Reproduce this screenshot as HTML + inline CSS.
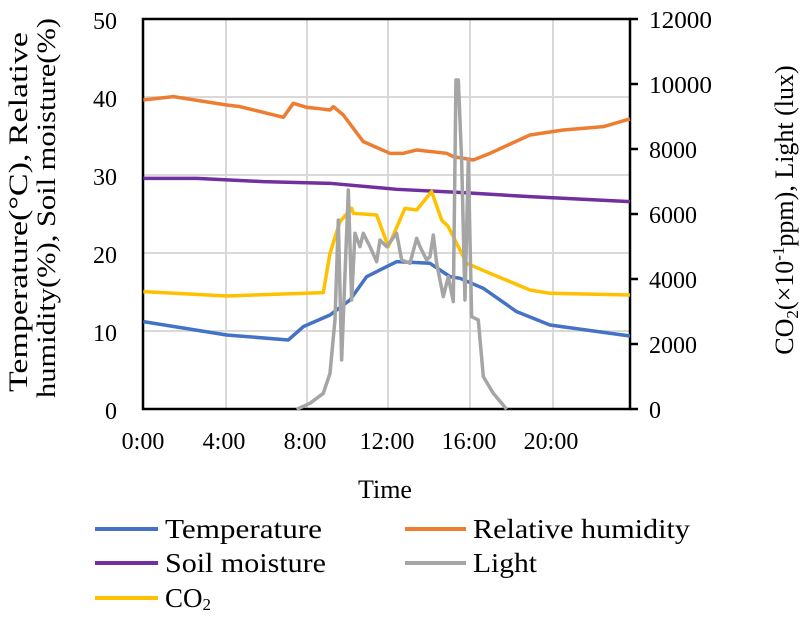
<!DOCTYPE html>
<html><head><style>
body{margin:0;background:#fff;}
svg{font-family:"Liberation Serif",serif;}
</style></head><body>
<svg width="800" height="613" viewBox="0 0 800 613">
<rect width="800" height="613" fill="#fff"/>
<g stroke="#d9d9d9" stroke-width="2">
<line x1="226" y1="19" x2="226" y2="409"/><line x1="307" y1="19" x2="307" y2="409"/>
<line x1="388" y1="19" x2="388" y2="409"/><line x1="470" y1="19" x2="470" y2="409"/>
<line x1="553" y1="19" x2="553" y2="409"/>
<line x1="143" y1="331" x2="630" y2="331"/><line x1="143" y1="253" x2="630" y2="253"/>
<line x1="143" y1="175" x2="630" y2="175"/><line x1="143" y1="97" x2="630" y2="97"/>
</g>
<g stroke="#000" stroke-width="2.5" fill="none">
<rect x="143" y="19" width="487" height="390"/>
<line x1="630" y1="19" x2="638" y2="19"/><line x1="630" y1="84" x2="638" y2="84"/>
<line x1="630" y1="149" x2="638" y2="149"/><line x1="630" y1="214" x2="638" y2="214"/>
<line x1="630" y1="279" x2="638" y2="279"/><line x1="630" y1="344" x2="638" y2="344"/>
<line x1="630" y1="409" x2="638" y2="409"/>
</g>
<g transform="translate(130,0) scale(0.3333)" fill="none" stroke-width="3.5" stroke-linejoin="round">
<polyline vector-effect="non-scaling-stroke" stroke="#ed7d31" points="40,300 130,290 290,315 330,320 460,352 490,310 530,322 560,325 600,330 610,320 640,345 700,425 780,460 820,460 860,450 950,460 970,470 1030,480 1080,460 1200,405 1300,390 1420,380 1500,357"/>
<polyline vector-effect="non-scaling-stroke" stroke="#7030a0" points="40,535 200,535 400,545 600,550 800,568 1000,578 1200,590 1500,605"/>
<polyline vector-effect="non-scaling-stroke" stroke="#4472c4" points="40,965 290,1005 475,1020 520,980 600,945 660,900 710,830 800,785 900,790 960,830 990,835 1060,865 1160,935 1260,975 1500,1008"/>
<polyline vector-effect="non-scaling-stroke" stroke="#ffc000" points="40,875 290,888 580,878 600,760 630,665 665,625 670,640 740,645 775,740 825,625 860,630 905,575 935,660 955,680 1010,790 1080,820 1200,870 1260,880 1500,885"/>
<polyline vector-effect="non-scaling-stroke" stroke="#a5a5a5" points="500,1228 540,1210 580,1180 600,1120 615,960 625,660 635,1080 655,570 665,900 675,700 690,740 700,700 720,740 740,785 750,720 770,740 800,700 815,780 840,790 860,715 870,740 890,780 900,770 910,705 920,790 940,890 955,830 970,905 978,240 985,240 995,480 1005,900 1015,480 1025,950 1045,960 1060,1130 1090,1180 1130,1228"/>
</g>
<g font-size="24" fill="#000" text-anchor="end">
<text x="117" y="29">50</text><text x="117" y="107">40</text><text x="117" y="185">30</text>
<text x="117" y="263">20</text><text x="117" y="341">10</text><text x="117" y="419">0</text>
</g>
<g font-size="24" fill="#000" text-anchor="start">
<text x="649" y="28" textLength="63" lengthAdjust="spacingAndGlyphs">12000</text>
<text x="649" y="93" textLength="63" lengthAdjust="spacingAndGlyphs">10000</text>
<text x="649" y="158">8000</text><text x="649" y="223">6000</text>
<text x="649" y="288">4000</text><text x="649" y="353">2000</text><text x="649" y="418">0</text>
</g>
<g font-size="24" fill="#000" text-anchor="middle">
<text x="143" y="449">0:00</text><text x="224" y="449">4:00</text><text x="305" y="449">8:00</text>
<text x="387" y="449">12:00</text><text x="469" y="449">16:00</text><text x="551" y="449">20:00</text>
<text x="385" y="498" font-size="26">Time</text>
</g>
<text font-size="26" text-anchor="middle" transform="translate(27,212) rotate(-90)" textLength="360" lengthAdjust="spacingAndGlyphs">Temperature(°C),  Relative</text>
<text font-size="26" text-anchor="middle" transform="translate(55,208) rotate(-90)" textLength="380" lengthAdjust="spacingAndGlyphs">humidity(%),  Soil moisture(%)</text>
<text font-size="26" text-anchor="middle" transform="translate(793,210) rotate(-90)">CO<tspan font-size="17" dy="5">2</tspan><tspan dy="-5">(×10</tspan><tspan font-size="17" dy="-9">-1</tspan><tspan dy="9">ppm), Light  (lux)</tspan></text>
<g stroke-width="4">
<line x1="95" y1="529" x2="158" y2="529" stroke="#4472c4"/>
<line x1="405" y1="529" x2="466" y2="529" stroke="#ed7d31"/>
<line x1="95" y1="563" x2="158" y2="563" stroke="#7030a0"/>
<line x1="405" y1="563" x2="466" y2="563" stroke="#a5a5a5"/>
<line x1="95" y1="598" x2="158" y2="598" stroke="#ffc000"/>
</g>
<g font-size="27" fill="#000">
<text x="165" y="538" textLength="157" lengthAdjust="spacingAndGlyphs">Temperature</text>
<text x="473" y="538" textLength="217" lengthAdjust="spacingAndGlyphs">Relative humidity</text>
<text x="165" y="572" textLength="161" lengthAdjust="spacingAndGlyphs">Soil moisture</text>
<text x="473" y="572" textLength="64" lengthAdjust="spacingAndGlyphs">Light</text>
<text x="165" y="607">CO<tspan font-size="17" dy="3">2</tspan></text>
</g>
</svg>
</body></html>
